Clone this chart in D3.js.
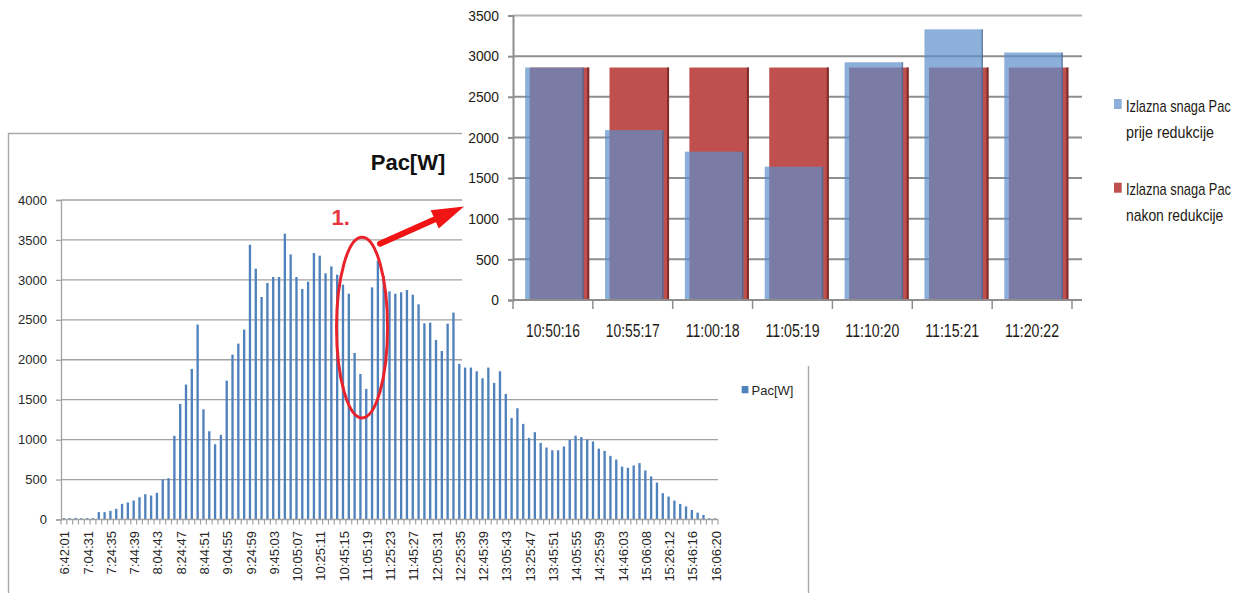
<!DOCTYPE html>
<html>
<head>
<meta charset="utf-8">
<script src="https://cdn.jsdelivr.net/npm/d3@7"></script>
<style>
  body { margin: 0; background: #fff; }
  svg { display: block; font-family: 'Liberation Sans', Arial, sans-serif; }
</style>
</head>
<body>
<svg width="1241" height="593"></svg>
<script>
//## DATA ##
// main chart: one bar every ~5 minutes, every 4th one is labelled
const pacTickLabels = ['6:42:01', '7:04:31', '7:24:35', '7:44:39', '8:04:43', '8:24:47', '8:44:51', '9:04:55',
  '9:24:59', '9:45:03', '10:05:07', '10:25:11', '10:45:15', '11:05:19', '11:25:23', '11:45:27', '12:05:31',
  '12:25:35', '12:45:39', '13:05:43', '13:25:47', '13:45:51', '14:05:55', '14:25:59', '14:46:03', '15:06:08',
  '15:26:12', '15:46:16', '16:06:20']
const pacValues = [
  17, 17, 20, 17, 17, 17, 92, 92, 108, 133,
  196, 213, 238, 279, 317, 300, 334, 500, 517, 1047,
  1447, 1689, 1885, 2440, 1380, 1105, 942, 1059, 1739, 2064,
  2202, 2377, 3440, 3140, 2786, 2961, 3036, 3036, 3578, 3319,
  3036, 2886, 2977, 3336, 3303, 3082, 3169, 3065, 2940, 2827,
  2085, 1822, 1635, 2906, 3240, 3050, 2856, 2827, 2844, 2873,
  2815, 2694, 2456, 2465, 2248, 2110, 2452, 2590, 1948, 1902,
  1902, 1856, 1768, 1902, 1710, 1856, 1572, 1272, 1393, 1197,
  1022, 1093, 959, 901, 867, 867, 915, 995, 1050, 1033,
  1002, 977, 887, 858, 797, 750, 662, 648, 677, 706,
  614, 539, 463, 329, 287, 237, 195, 163, 120, 86,
  56, 15, 15]
const pacYTicks = [0, 500, 1000, 1500, 2000, 2500, 3000, 3500, 4000]

// zoomed inset (before / after reduction)
const insetTimes = ['10:50:16', '10:55:17', '11:00:18', '11:05:19', '11:10:20', '11:15:21', '11:20:22']
const pacBefore = [2860, 2090, 1825, 1640, 2925, 3330, 3045]
const pacAfter = [2860, 2860, 2860, 2860, 2860, 2860, 2860]
const insetYTicks = [0, 500, 1000, 1500, 2000, 2500, 3000, 3500]
const legendBefore = ['Izlazna snaga Pac', 'prije redukcije']
const legendAfter = ['Izlazna snaga Pac', 'nakon redukcije']

//## SETUP ##
const svg = d3.select('svg')
const main = { left: 61, right: 718, top: 200, bottom: 519.5 }
const inset = { left: 513, right: 1072, gridRight: 1082, top: 15.5, bottom: 300 }
const gridColor = '#a2a2a2'
const textColor = '#262626'
const plain = d3.format('d')

const scaleX = d3.scaleBand()
  .domain(d3.range(pacValues.length))
  .range([main.left, main.right])
  .paddingInner(0.6)
  .paddingOuter(0.3)

const scaleY = d3.scaleLinear()
  .domain([0, 4000])
  .range([main.bottom, main.top])

const insetX = d3.scaleBand()
  .domain(insetTimes)
  .range([inset.left, inset.right])
  .paddingInner(0.267)
  .paddingOuter(0.1335)

const insetY = d3.scaleLinear()
  .domain([0, 3500])
  .range([inset.bottom, inset.top])

//## MAIN CHART ##
svg.append('rect')
  .attr('x', 8.5).attr('y', 133.5)
  .attr('width', 800).attr('height', 500)
  .attr('fill', 'none')
  .attr('stroke', '#a8a8a8')
  .attr('stroke-width', 1.4)

svg.append('text')
  .attr('x', 408).attr('y', 170)
  .attr('text-anchor', 'middle')
  .style('font-size', '22px')
  .style('font-weight', 'bold')
  .attr('fill', '#111')
  .text('Pac[W]')

const g = svg.append('g')

// gridlines
g.selectAll('.grid').data(pacYTicks.slice(1))
  .enter().append('line')
  .attr('x1', main.left).attr('x2', main.right)
  .attr('y1', d => scaleY(d)).attr('y2', d => scaleY(d))
  .attr('stroke', gridColor)
  .attr('stroke-width', 1.3)

// bars
g.selectAll('.bar').data(pacValues)
  .enter().append('rect')
  .attr('x', (d, i) => scaleX(i))
  .attr('y', d => scaleY(d))
  .attr('width', scaleX.bandwidth())
  .attr('height', d => scaleY(0) - scaleY(d))
  .attr('fill', '#4f81bd')

// y axis
const yAxisGroup = g.append('g')
  .attr('transform', 'translate(' + main.left + ',0)')
  .call(d3.axisLeft(scaleY).tickValues(pacYTicks).tickFormat(plain).tickSize(5).tickPadding(9))
yAxisGroup.select('.domain').attr('stroke', gridColor).attr('stroke-width', 1.3)
yAxisGroup.selectAll('.tick line').attr('stroke', gridColor).attr('stroke-width', 1.3)
yAxisGroup.selectAll('text').style('font-size', '13px').attr('fill', textColor)

// x axis: labels on every 4th bar, ticks between bars
const labelIndex = d3.range(0, pacValues.length, 4)
const xAxisGroup = g.append('g')
  .attr('transform', 'translate(0,' + main.bottom + ')')
  .call(d3.axisBottom(scaleX).tickValues(labelIndex).tickSize(0)
    .tickFormat(i => pacTickLabels[i / 4]))
xAxisGroup.select('.domain').remove()
xAxisGroup.selectAll('text')
  .attr('transform', 'rotate(-90)')
  .attr('text-anchor', 'end')
  .attr('x', -11.5)
  .attr('y', 1)
  .attr('dy', '0.35em')
  .style('font-size', '13px')
  .attr('fill', textColor)

const step = scaleX.step()
const boundary = i => scaleX(0) + scaleX.bandwidth() / 2 - step / 2 + i * step
g.selectAll('.xtick').data(d3.range(pacValues.length + 1))
  .enter().append('line')
  .attr('x1', boundary).attr('x2', boundary)
  .attr('y1', main.bottom).attr('y2', main.bottom + 5)
  .attr('stroke', gridColor).attr('stroke-width', 1.2)
g.append('line')
  .attr('x1', main.left).attr('x2', main.right)
  .attr('y1', main.bottom).attr('y2', main.bottom)
  .attr('stroke', gridColor).attr('stroke-width', 1.3)

// legend
svg.append('rect')
  .attr('x', 741.7).attr('y', 386)
  .attr('width', 6.7).attr('height', 7.3)
  .attr('fill', '#4f81bd')
svg.append('text')
  .attr('x', 751.5).attr('y', 390)
  .attr('dy', '0.35em')
  .style('font-size', '13px')
  .attr('fill', textColor)
  .text('Pac[W]')

// red ellipse around the reduction
const ellipseCx = scaleX(51) + scaleX.bandwidth() / 2 + 1.6
const ellipseTop = scaleY(3535)
const ellipseBottom = scaleY(1272)
svg.append('ellipse')
  .attr('cx', ellipseCx)
  .attr('cy', (ellipseTop + ellipseBottom) / 2)
  .attr('rx', 25.5)
  .attr('ry', (ellipseBottom - ellipseTop) / 2)
  .attr('fill', 'none')
  .attr('stroke', '#e8232c')
  .attr('stroke-width', 3)

svg.append('text')
  .attr('x', 331.5).attr('y', 225)
  .style('font-size', '22px')
  .style('font-weight', 'bold')
  .attr('fill', '#e8343f')
  .text('1.')

//## INSET CHART ##
svg.append('rect')
  .attr('x', 462).attr('y', 0)
  .attr('width', 779).attr('height', 366)
  .attr('fill', '#fff')

const ig = svg.append('g')
const insetGrid = '#8e8e8e'

ig.selectAll('.igrid').data(insetYTicks)
  .enter().append('line')
  .attr('x1', inset.left).attr('x2', inset.gridRight)
  .attr('y1', d => insetY(d)).attr('y2', d => insetY(d))
  .attr('stroke', (d, i) => i === insetYTicks.length - 1 ? '#b4b4b4' : insetGrid)
  .attr('stroke-width', 2)

const bw = insetX.bandwidth()

// after reduction (behind)
ig.selectAll('.after').data(pacAfter)
  .enter().append('rect')
  .attr('x', (d, i) => insetX(insetTimes[i]) + 6)
  .attr('y', d => insetY(d))
  .attr('width', bw + 1)
  .attr('height', d => insetY(0) - insetY(d))
  .attr('fill', '#c0504d')
ig.selectAll('.afterEdge').data(pacAfter)
  .enter().append('rect')
  .attr('x', (d, i) => insetX(insetTimes[i]) + 6 + bw - 1)
  .attr('y', d => insetY(d))
  .attr('width', 2)
  .attr('height', d => insetY(0) - insetY(d))
  .attr('fill', '#7e2d2b')

// before reduction (front, see-through)
ig.selectAll('.before').data(pacBefore)
  .enter().append('rect')
  .attr('x', (d, i) => insetX(insetTimes[i]) + 1.5)
  .attr('y', d => insetY(d))
  .attr('width', bw)
  .attr('height', d => insetY(0) - insetY(d))
  .attr('fill', '#5c8fca')
  .attr('fill-opacity', 0.7)
ig.selectAll('.beforeEdge').data(pacBefore)
  .enter().append('rect')
  .attr('x', (d, i) => insetX(insetTimes[i]) + 1.5 + bw - 1.5)
  .attr('y', d => insetY(d))
  .attr('width', 1.5)
  .attr('height', d => insetY(0) - insetY(d))
  .attr('fill', '#3c4a70')
  .attr('fill-opacity', 0.45)

// inset axes
const iyAxis = ig.append('g')
  .attr('transform', 'translate(' + inset.left + ',0)')
  .call(d3.axisLeft(insetY).tickValues(insetYTicks).tickFormat(plain).tickSize(5).tickPadding(9))
iyAxis.select('.domain').attr('stroke', insetGrid).attr('stroke-width', 2)
iyAxis.selectAll('.tick line').attr('stroke', insetGrid).attr('stroke-width', 2)
iyAxis.selectAll('text')
  .style('font-size', '15px')
  .attr('fill', '#1e1a14')
  .attr('textLength', d => String(d).length * 7.7)
  .attr('lengthAdjust', 'spacingAndGlyphs')

const ixAxis = ig.append('g')
  .attr('transform', 'translate(0,' + inset.bottom + ')')
  .call(d3.axisBottom(insetX).tickSize(0).tickPadding(0))
ixAxis.select('.domain').remove()
ixAxis.selectAll('text')
  .attr('y', 36.7)
  .attr('dy', 0)
  .style('font-size', '18px')
  .attr('fill', '#1e1a14')
  .attr('textLength', 54)
  .attr('lengthAdjust', 'spacingAndGlyphs')

const istep = insetX.step()
const iboundary = i => inset.left + i * istep
ig.selectAll('.ixtick').data(d3.range(insetTimes.length + 1))
  .enter().append('line')
  .attr('x1', iboundary).attr('x2', iboundary)
  .attr('y1', inset.bottom).attr('y2', inset.bottom + 9)
  .attr('stroke', insetGrid).attr('stroke-width', 1.5)
ig.append('line')
  .attr('x1', inset.left).attr('x2', inset.gridRight)
  .attr('y1', inset.bottom).attr('y2', inset.bottom)
  .attr('stroke', insetGrid).attr('stroke-width', 2)

// inset legend (narrow, tall lettering)
const legendItems = [
  { lines: legendBefore, fill: '#5c8fca', opacity: 0.7, y: 99, widths: [104.7, 88] },
  { lines: legendAfter, fill: '#c0504d', opacity: 1, y: 182.7, widths: [105, 97.3] }
]
legendItems.forEach(item => {
  ig.append('rect')
    .attr('x', 1114).attr('y', item.y)
    .attr('width', 7.7).attr('height', 10)
    .attr('fill', item.fill)
    .attr('fill-opacity', item.opacity)
  item.lines.forEach((line, i) => {
    ig.append('text')
      .attr('transform', 'translate(1126,' + (item.y + 12.5 + i * 26) + ') scale(1,1.2)')
      .style('font-size', '14px')
      .attr('fill', '#1e1a14')
      .attr('textLength', item.widths[i])
      .attr('lengthAdjust', 'spacingAndGlyphs')
      .text(line)
  })
})

//## ARROW from ellipse to inset ##
const tail = [ellipseCx + 18, ellipseTop + 6.5]
const tip = [inset.left - 49, insetY(1150)]
const dx = tip[0] - tail[0]
const dy = tip[1] - tail[1]
const len = Math.sqrt(dx * dx + dy * dy)
const ux = dx / len
const uy = dy / len
const headLen = 32
const headHalf = 10
const base = [tip[0] - ux * headLen, tip[1] - uy * headLen]

svg.append('line')
  .attr('x1', tail[0]).attr('y1', tail[1])
  .attr('x2', base[0] + ux * 4).attr('y2', base[1] + uy * 4)
  .attr('stroke', '#f01414')
  .attr('stroke-width', 6)
  .attr('stroke-linecap', 'round')
svg.append('path')
  .attr('d', 'M' + tip[0] + ',' + tip[1] +
    'L' + (base[0] - uy * headHalf) + ',' + (base[1] + ux * headHalf) +
    'L' + (base[0] + uy * headHalf) + ',' + (base[1] - ux * headHalf) + 'Z')
  .attr('fill', '#f01414')
</script>
</body>
</html>
